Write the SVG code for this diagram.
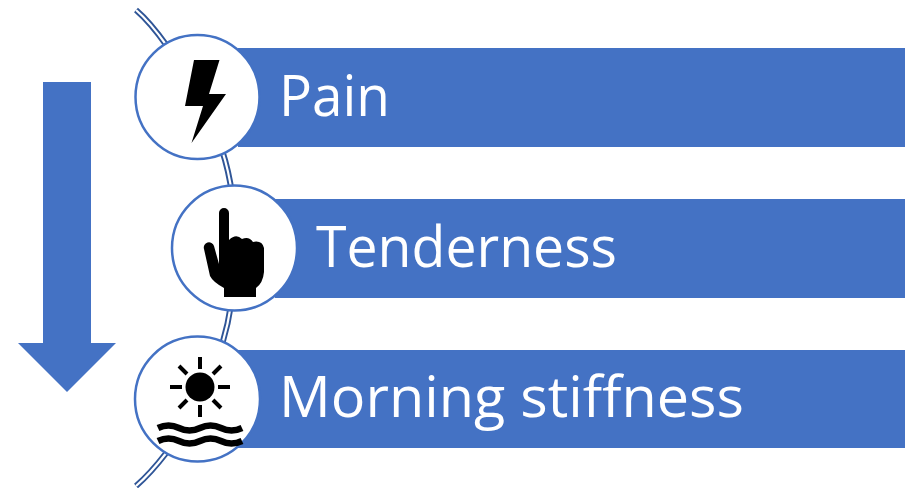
<svg xmlns="http://www.w3.org/2000/svg" width="913" height="488" viewBox="0 0 913 488">
<style>
.bar{fill:#4472C4}
.ring{fill:#fff;stroke:#4472C4;stroke-width:2.500}
.lbl{font-family:"Open Sans","Noto Sans",sans-serif;font-size:57px;fill:#fff}
.ico{fill:#000}
.wave{fill:none;stroke:#000;stroke-width:6.500}
.ray{stroke:#000;stroke-width:4;fill:none}
.arc1{fill:none;stroke:#2F5597;stroke-width:6}
.arc2{fill:none;stroke:#fff;stroke-width:2.200}
</style>
<g id="connectors">
<path class="arc1" d="M136 10 Q150 22 167 46"/><path class="arc2" d="M136 10 Q150 22 167 46"/>
<path class="arc1" d="M222 150 C240 205 240 285 222 345"/><path class="arc2" d="M222 150 C240 205 240 285 222 345"/>
<path class="arc1" d="M136 486 Q150 474 167 452"/><path class="arc2" d="M136 486 Q150 474 167 452"/>
</g>
<g id="arrow"><path class="bar" d="M43 82H91V343H116L67 392L18 343H43Z"/></g>
<g id="pain">
<rect class="bar" x="238" y="48" width="667" height="99"/>
<circle class="ring" cx="197.500" cy="97" r="62"/>
<path class="ico" d="M194 60H219.500L209 94H226L191.500 143L203 106H185Z"/>
<text class="lbl" x="279" y="116" textLength="111" lengthAdjust="spacingAndGlyphs">Pain</text>
</g>
<g id="tenderness">
<rect class="bar" x="275" y="199" width="630" height="99"/>
<circle class="ring" cx="234.500" cy="248" r="62.500"/>
<path class="ico" d="M219 213a5 5 0 0 1 10 0V240Q236 233 242 239Q249 236 253 242Q262 240 264 248V272Q263 283 256 288V297H224V288Q213 282 210 276L204 249a5 5 0 0 1 10 -3L219 264Z"/>
<text class="lbl" x="316" y="267" textLength="301" lengthAdjust="spacingAndGlyphs">Tenderness</text>
</g>
<g id="morning-stiffness">
<rect class="bar" x="238" y="350" width="667" height="98"/>
<circle class="ring" cx="197.500" cy="399" r="62.500"/>
<circle class="ico" cx="200" cy="387" r="14.500"/>
<path class="ray" d="M200 357V369M200 405V417M170 387H182M218 387H230M179 366L187 374M221 366L213 374M179 408L187 400M221 408L213 400"/>
<path class="wave" d="M158 428q10.500 -5 21 0t21 0t21 0t21 0"/>
<path class="wave" d="M158 441q10.500 -5 21 0t21 0t21 0t21 0"/>
<text class="lbl" x="279" y="417" textLength="465" lengthAdjust="spacingAndGlyphs">Morning stiffness</text>
</g>
</svg>
